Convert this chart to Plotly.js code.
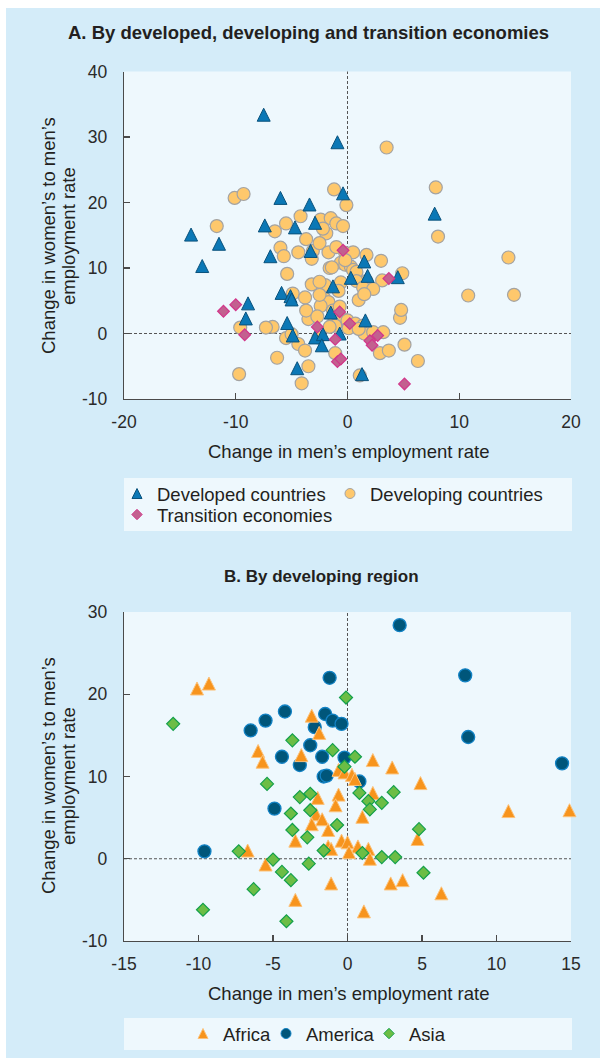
<!DOCTYPE html>
<html><head><meta charset="utf-8">
<script src="https://cdn.plot.ly/plotly-3.0.1.min.js"></script>
<style>html,body{margin:0;padding:0;background:#fff}#chart{width:606px;height:1061px}</style>
</head><body><div id="chart"></div>
<script>
// ---------- Data ----------
// Panel A: developed countries
const developedX = [-7.5,-0.9,-0.4,-6.0,-3.4,-7.4,-4.7,-2.9,-14.0,-11.5,-3.3,-6.9,7.8,1.5,-13.0,0.3,-1.3,-5.9,-5.1,-5.0,-8.9,-9.1,-1.5,-5.4,-4.9,-2.9,-2.2,-0.7,-2.3,-4.5,1.3,1.8,4.5,1.6];
const developedY = [33.4,29.2,21.4,20.7,19.7,16.5,16.2,16.9,15.1,13.7,12.6,11.8,18.3,11.0,10.3,8.5,7.2,6.2,5.7,5.2,4.6,2.3,3.2,1.6,-0.3,-0.6,-0.1,0.0,-1.8,-5.3,-6.2,8.8,8.6,2.0];
// Panel A: transition economies
const transitionX = [-0.4,-10.0,-11.1,-9.2,-2.7,-0.7,0.2,-1.1,-0.9,-0.6,3.7,2.7,2.0,2.2,5.1];
const transitionY = [12.7,4.4,3.4,-0.2,1.0,3.3,1.5,-0.9,-4.3,-3.9,8.4,-0.3,-1.1,-1.8,-7.7];
// Panel B: developing regions (together they form the developing countries of panel A)
const africaX = [-10.1,-9.3,-2.4,-1.9,-6.0,-5.7,-3.1,1.7,3.0,-0.6,-0.2,0.3,0.5,4.9,1.7,-0.6,-2.0,-0.8,-2.1,-1.7,-2.4,-1.3,1.0,-3.5,-0.4,0.0,-1.3,-1.1,0.7,1.4,0.1,1.5,4.7,-6.7,-5.5,-1.1,-3.5,1.1,2.9,3.7,6.3,10.8,14.9];
const africaY = [20.7,21.3,17.4,15.3,13.1,11.8,12.6,12.0,11.1,10.8,10.5,10.2,9.7,9.2,8.0,7.8,7.4,6.5,5.4,4.8,4.2,3.5,5.1,2.2,2.2,2.0,1.5,1.2,1.5,1.2,0.8,0.0,2.4,1.0,-0.7,-3.0,-5.0,-6.4,-3.0,-2.6,-4.2,5.8,5.9];
const americaX = [-1.2,-6.5,-5.5,-4.2,-1.5,-1.0,-0.4,-2.2,-2.5,-4.4,-3.2,-1.7,-0.2,-1.6,-1.4,0.8,-4.9,-9.6,3.5,7.9,8.1,14.4];
const americaY = [22.0,15.6,16.8,17.9,17.6,16.8,16.4,16.0,13.8,12.4,11.4,12.4,12.3,10.0,10.1,9.4,6.1,0.9,28.4,22.3,14.8,11.6];
const asiaX = [-0.1,-3.7,-1.0,0.5,-0.2,-5.4,0.8,3.1,1.4,2.3,1.5,-3.2,-2.5,-2.5,-3.8,-0.7,-3.7,-2.7,-1.6,1.0,2.3,3.2,4.8,5.1,-7.3,-5.0,-4.4,-3.8,-2.6,-6.3,-9.7,-4.1,-11.7];
const asiaY = [19.6,14.4,13.2,12.4,11.2,9.1,8.0,8.1,7.0,6.8,6.0,7.5,7.9,5.9,5.5,4.1,3.5,2.6,1.0,0.7,0.2,0.2,3.6,-1.7,0.9,-0.1,-1.6,-2.6,-0.6,-3.7,-6.2,-7.6,16.4];
const developingX = africaX.concat(americaX, asiaX);
const developingY = africaY.concat(americaY, asiaY);

// Tick labels
const aXTicks = [-20,-10,0,10,20];
const aXLabels = ['-20','-10','0','10','20'];
const aYTicks = [-10,0,10,20,30,40];
const aYLabels = ['-10','0','10','20','30','40'];
const bXTicks = [-15,-10,-5,0,5,10,15];
const bXLabels = ['-15','-10','-5','0','5','10','15'];
const bYTicks = [-10,0,10,20,30];
const bYLabels = ['-10','0','10','20','30'];

// Text
const titleA = 'A. By developed, developing and transition economies';
const titleB = 'B. By developing region';
const xTitle = 'Change in men’s employment rate';
const yTitle1 = 'Change in women’s to men’s';
const yTitle2 = 'employment rate';

// ---------- Layout helpers (pixel -> paper) ----------
const W = 606, H = 1061;
const fx = p => p / W;
const fy = p => 1 - p / H;
const FONT = 'Liberation Sans, Arial, Helvetica, sans-serif';
const TXT = '#231f20';

const C = {
  developed: '#0b78b6', developedLine: '#0a527c',
  developing: '#fec86c', developingLine: '#a3a3a3',
  transition: '#c3608f', transitionLine: '#d2368a',
  africa: '#f7941d', africaLine: '#fcc27a',
  america: '#00567a', americaLine: '#1282c4',
  asia: '#6cbd45', asiaLine: '#13a04b'
};

const triSize = 13;   // arrow symbols: width = height = size
function tri(color, line, size, lw) {
  return {symbol: 'arrow-down', angle: 180, standoff: size / 2, size: size, color: color, line: {color: line, width: lw}};
}
function legendTri(color, line) {
  return {symbol: 'arrow-up', size: 10, standoff: 5, color: color, line: {color: line, width: 1}};
}

const traces = [
  // Panel A
  {x: developingX, y: developingY, xaxis: 'x', yaxis: 'y', type: 'scatter', mode: 'markers', showlegend: false, cliponaxis: false, hoverinfo: 'x+y',
   marker: {symbol: 'circle', size: 13, color: C.developing, line: {color: C.developingLine, width: 1.2}}},
  {x: developedX, y: developedY, xaxis: 'x', yaxis: 'y', type: 'scatter', mode: 'markers', showlegend: false, cliponaxis: false, hoverinfo: 'x+y',
   marker: tri(C.developed, C.developedLine, triSize, 1)},
  {x: transitionX, y: transitionY, xaxis: 'x', yaxis: 'y', type: 'scatter', mode: 'markers', showlegend: false, cliponaxis: false, hoverinfo: 'x+y',
   marker: {symbol: 'diamond', size: 9, color: C.transition, line: {color: C.transitionLine, width: 1.2}}},
  // Panel B
  {x: americaX, y: americaY, xaxis: 'x2', yaxis: 'y2', type: 'scatter', mode: 'markers', showlegend: false, cliponaxis: false, hoverinfo: 'x+y',
   marker: {symbol: 'circle', size: 13, color: C.america, line: {color: C.americaLine, width: 1.3}}},
  {x: africaX, y: africaY, xaxis: 'x2', yaxis: 'y2', type: 'scatter', mode: 'markers', showlegend: false, cliponaxis: false, hoverinfo: 'x+y',
   marker: tri(C.africa, C.africaLine, triSize, 1)},
  {x: asiaX, y: asiaY, xaxis: 'x2', yaxis: 'y2', type: 'scatter', mode: 'markers', showlegend: false, cliponaxis: false, hoverinfo: 'x+y',
   marker: {symbol: 'diamond', size: 10, color: C.asia, line: {color: C.asiaLine, width: 1.2}}},
  // legend entries (no points of their own)
  {x: [null], y: [null], xaxis: 'x', yaxis: 'y', mode: 'markers', name: 'Developed countries', legend: 'legend', legendrank: 1,
   marker: legendTri(C.developed, C.developedLine)},
  {x: [null], y: [null], xaxis: 'x', yaxis: 'y', mode: 'markers', name: 'Developing countries', legend: 'legend', legendrank: 2,
   marker: {symbol: 'circle', size: 10, color: C.developing, line: {color: C.developingLine, width: 1}}},
  {x: [null], y: [null], xaxis: 'x', yaxis: 'y', mode: 'markers', name: 'Transition economies', legend: 'legend2',
   marker: {symbol: 'diamond', size: 8, color: C.transition, line: {color: C.transitionLine, width: 1}}},
  {x: [null], y: [null], xaxis: 'x2', yaxis: 'y2', mode: 'markers', name: 'Africa', legend: 'legend3',
   marker: legendTri(C.africa, C.africaLine)},
  {x: [null], y: [null], xaxis: 'x2', yaxis: 'y2', mode: 'markers', name: 'America', legend: 'legend4',
   marker: {symbol: 'circle', size: 10, color: C.america, line: {color: C.americaLine, width: 1}}},
  {x: [null], y: [null], xaxis: 'x2', yaxis: 'y2', mode: 'markers', name: 'Asia', legend: 'legend5',
   marker: {symbol: 'diamond', size: 8, color: C.asia, line: {color: C.asiaLine, width: 1}}}
];

const axisCommon = {
  showgrid: false, zeroline: false, showline: true, linecolor: '#4a4a4a', linewidth: 1.3,
  ticks: 'inside', ticklen: 6, tickwidth: 1.2, tickcolor: '#4a4a4a',
  tickfont: {family: FONT, size: 17.5, color: '#2a2a2a'}, fixedrange: true
};
const xAxisCommon = Object.assign({}, axisCommon, {ticklabelstandoff: 7});
const yAxisCommon = Object.assign({}, axisCommon, {ticklabelstandoff: 12});

const plotL = 124, plotR = 571;
const aTop = 71.5, aBot = 399, bTop = 612, bBot = 941;

function dashed(xref, yref, vertical) {
  return vertical
    ? {type: 'line', xref: xref, yref: yref + ' domain', x0: 0, x1: 0, y0: 0, y1: 1, layer: 'below', line: {color: '#555', width: 1, dash: '3px,2px'}}
    : {type: 'line', xref: xref + ' domain', yref: yref, x0: 0, x1: 1, y0: 0, y1: 0, layer: 'below', line: {color: '#555', width: 1, dash: '3px,2px'}};
}
function rect(x0, y0, x1, y1, color) {
  return {type: 'rect', xref: 'paper', yref: 'paper', x0: fx(x0), x1: fx(x1), y0: fy(y1), y1: fy(y0), layer: 'below', fillcolor: color, line: {width: 0}};
}
function ann(text, x, y, size, opts) {
  return Object.assign({text: text, xref: 'paper', yref: 'paper', x: fx(x), y: fy(y), showarrow: false,
    xanchor: 'center', yanchor: 'middle', font: {family: FONT, size: size, color: TXT}}, opts || {});
}
function leg(x, y, extra) {
  return Object.assign({orientation: 'h', x: fx(x), xanchor: 'left', y: fy(y), yanchor: 'middle', bgcolor: 'rgba(0,0,0,0)',
    font: {family: FONT, size: 18.5, color: TXT}, itemclick: false, itemdoubleclick: false}, extra || {});
}

const layout = {
  width: W, height: H, margin: {l: 0, r: 0, t: 0, b: 0},
  paper_bgcolor: '#d4ecf9', plot_bgcolor: '#eef8fd',
  font: {family: FONT, color: TXT},
  showlegend: true,
  xaxis: Object.assign({}, xAxisCommon, {domain: [fx(plotL), fx(plotR)], anchor: 'y', range: [-20, 20], tickvals: aXTicks, ticktext: aXLabels}),
  yaxis: Object.assign({}, yAxisCommon, {domain: [fy(aBot), fy(aTop)], anchor: 'x', range: [-10, 40], tickvals: aYTicks, ticktext: aYLabels}),
  xaxis2: Object.assign({}, xAxisCommon, {domain: [fx(plotL), fx(plotR)], anchor: 'y2', range: [-15, 15], tickvals: bXTicks, ticktext: bXLabels}),
  yaxis2: Object.assign({}, yAxisCommon, {domain: [fy(bBot), fy(bTop)], anchor: 'x2', range: [-10, 30], tickvals: bYTicks, ticktext: bYLabels}),
  legend: leg(117, 494, {entrywidth: 168}),
  legend2: leg(117, 515),
  legend3: leg(183, 1034),
  legend4: leg(266, 1034),
  legend5: leg(369, 1034),
  shapes: [
    rect(0, 0, 606, 8, '#ffffff'), rect(0, 0, 6, 1061, '#ffffff'), rect(600, 0, 606, 1061, '#ffffff'), rect(0, 1058, 606, 1061, '#ffffff'),
    rect(124, 478, 572, 531, '#eef8fd'), rect(124, 1018, 572, 1050, '#eef8fd'),
    dashed('x', 'y', true), dashed('x', 'y', false),
    dashed('x2', 'y2', true), dashed('x2', 'y2', false)
  ],
  annotations: [
    ann('<b>' + titleA + '</b>', 308, 33, 18.5),
    ann('<b>' + titleB + '</b>', 321, 576, 17),
    ann(xTitle, 348, 452, 18.5),
    ann(xTitle, 348, 993, 18.5),
    ann(yTitle1, 48, 236, 18.5, {textangle: -90}),
    ann(yTitle2, 68, 236, 18.5, {textangle: -90}),
    ann(yTitle1, 48, 776, 18.5, {textangle: -90}),
    ann(yTitle2, 68, 776, 18.5, {textangle: -90})
  ]
};

Plotly.newPlot('chart', traces, layout, {displayModeBar: false, staticPlot: true});
</script></body></html>
